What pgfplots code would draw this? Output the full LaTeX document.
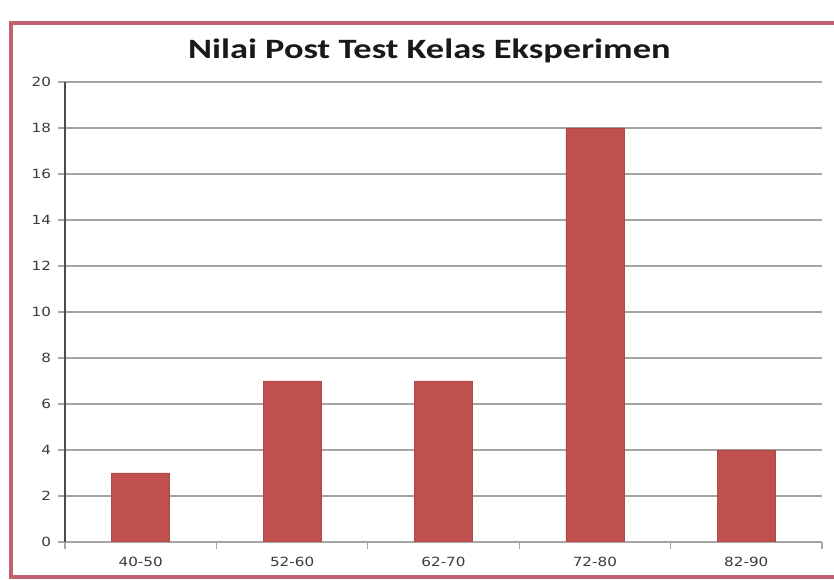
\documentclass[border=0pt]{standalone}
\usepackage{fontspec}
\setmainfont{DejaVu Sans}[FakeStretch=1.2]
\newfontfamily\titlefont{Carlito}[FakeStretch=1.3]
\usepackage{pgfplots}
\pgfplotsset{compat=1.18}
\definecolor{barred}{RGB}{192,80,77}
\definecolor{framered}{RGB}{195,95,110}
\definecolor{gridgray}{RGB}{165,165,165}
\definecolor{ticktext}{RGB}{60,60,60}
\begin{document}
\begin{tikzpicture}
\useasboundingbox (0,0) rectangle (625.5pt,435pt);
\fill[white] (0,0) rectangle (625.5pt,435pt);
\draw[framered, line width=2.4pt] (8.25pt,2.25pt) rectangle (632pt,417.75pt);
\node[font=\titlefont\bfseries\fontsize{21}{24}\selectfont, text=black!90] at (322pt,397pt) {Nilai Post Test Kelas Eksperimen};
\begin{axis}[
  at={(48.75pt,28.5pt)}, anchor=south west,
  scale only axis, width=567.75pt, height=345pt,
  xmin=-0.5, xmax=4.5, ymin=0, ymax=20,
  ytick={0,2,...,20},
  xtick={0,1,2,3,4},
  xticklabels={40-50,52-60,62-70,72-80,82-90},
  minor xtick={-0.5,0.5,1.5,2.5,3.5,4.5},
  major x tick style={draw=none},
  minor x tick style={draw=gridgray, line width=0.8pt},
  tick align=outside,
  major tick length=5pt, minor tick length=5pt,
  ymajorgrids, grid style={gridgray, line width=0.8pt},
  axis x line*=bottom, axis y line*=left,
  x axis line style={gridgray, line width=0.8pt},
  y axis line style={black!70, line width=0.8pt},
  ytick style={gridgray, line width=0.8pt},
  tick label style={font=\fontsize{9.5}{11}\selectfont, text=ticktext},
  /pgf/number format/assume math mode=true,
  yticklabel style={xshift=-2pt},
  xticklabel style={yshift=-3pt},
  ybar, bar width=43.5pt,
]
\addplot[fill=barred, draw=barred!90!black] coordinates {(0,3) (1,7) (2,7) (3,18) (4,4)};
\end{axis}
\end{tikzpicture}
\end{document}
